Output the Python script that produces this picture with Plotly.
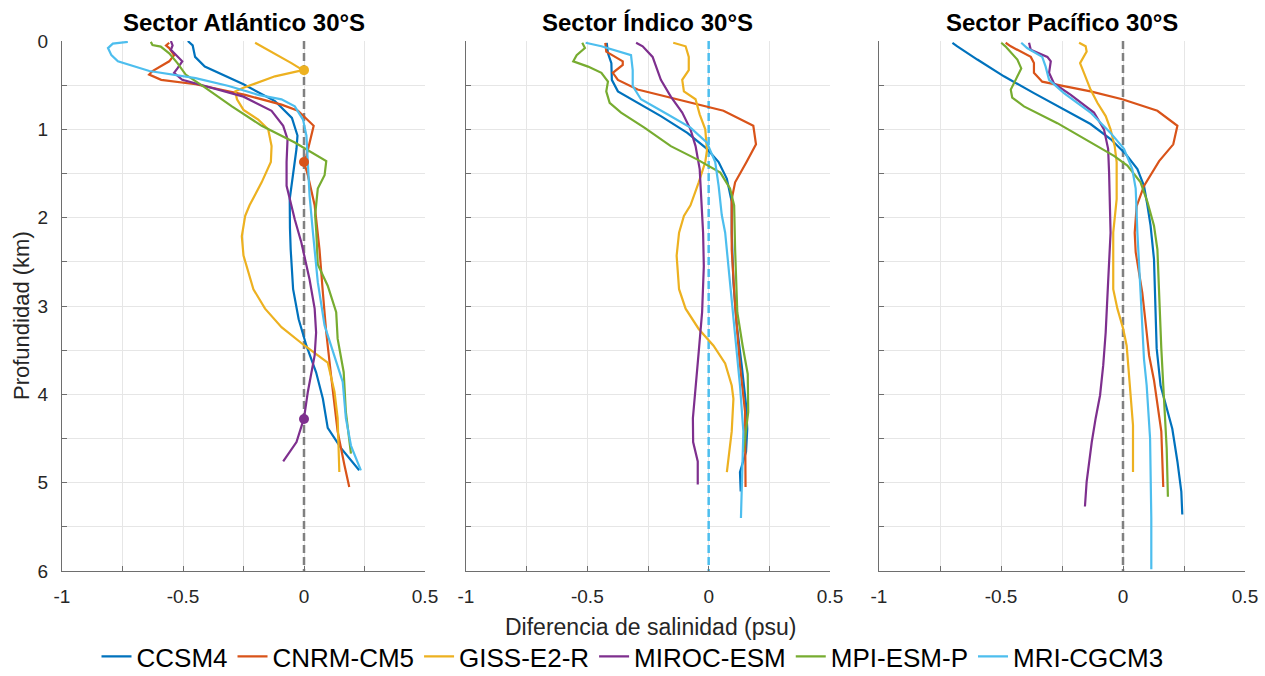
import plotly.graph_objects as go

MODELS = ["CCSM4", "CNRM-CM5", "GISS-E2-R", "MIROC-ESM", "MPI-ESM-P", "MRI-CGCM3"]
COLORS = ["#0072BD", "#D95319", "#EDB120", "#7E2F8E", "#77AC30", "#4DBEEE"]
SECTORS = ["Sector Atlántico 30°S", "Sector Índico 30°S", "Sector Pacífico 30°S"]
XTICKS = [-1, -0.75, -0.5, -0.25, 0, 0.25, 0.5]
XTICKTEXT = ["-1", "", "-0.5", "", "0", "", "0.5"]
YTICKS = [0, 0.5, 1, 1.5, 2, 2.5, 3, 3.5, 4, 4.5, 5, 5.5, 6]
YTICKTEXT = ["0", "", "1", "", "2", "", "3", "", "4", "", "5", "", "6"]

# ---- Atlántico ----
ATL_CCSM4_D = [0, 0.05, 0.18, 0.29, 0.49, 0.68, 0.87, 1.07, 1.22, 1.49, 1.79, 2.12, 2.36, 2.81, 3.15, 3.45, 3.75, 4.05, 4.38, 4.61, 4.86]
ATL_CCSM4_S = [-0.48, -0.46, -0.45, -0.41, -0.25, -0.12, -0.05, -0.027, -0.031, -0.045, -0.059, -0.058, -0.055, -0.045, -0.022, 0.01, 0.05, 0.078, 0.098, 0.153, 0.228]
ATL_CNRM_D = [0.02, 0.05, 0.08, 0.16, 0.23, 0.34, 0.38, 0.44, 0.49, 0.61, 0.72, 0.79, 0.96, 1.15, 1.30, 1.37, 1.52, 1.86, 2.36, 2.85, 3.30, 3.79, 4.42, 4.80, 5.05]
ATL_CNRM_S = [-0.557, -0.57, -0.557, -0.537, -0.557, -0.626, -0.64, -0.59, -0.448, -0.243, -0.093, -0.025, 0.04, 0.023, 0.01, 0.0, 0.016, 0.044, 0.064, 0.078, 0.092, 0.112, 0.139, 0.167, 0.187]
ATL_GISS_D = [0.02, 0.10, 0.25, 0.33, 0.40, 0.53, 0.57, 0.66, 0.78, 0.89, 1.0, 1.19, 1.37, 1.60, 1.86, 1.98, 2.21, 2.43, 2.81, 3.03, 3.24, 3.45, 3.64, 3.97, 4.27, 4.88]
ATL_GISS_S = [-0.202, -0.148, -0.052, -0.005, -0.12, -0.25, -0.284, -0.277, -0.25, -0.189, -0.148, -0.134, -0.137, -0.175, -0.225, -0.243, -0.257, -0.25, -0.209, -0.161, -0.093, 0.003, 0.098, 0.126, 0.139, 0.146]
ATL_MIROC_D = [0, 0.05, 0.10, 0.23, 0.31, 0.36, 0.44, 0.53, 0.63, 0.79, 0.96, 1.11, 1.37, 1.64, 2.02, 2.28, 2.70, 3.03, 3.30, 3.56, 3.97, 4.27, 4.54, 4.76]
ATL_MIROC_S = [-0.55, -0.543, -0.55, -0.503, -0.523, -0.537, -0.503, -0.38, -0.25, -0.134, -0.086, -0.068, -0.072, -0.072, -0.038, -0.011, 0.023, 0.044, 0.05, 0.044, 0.016, 0.0, -0.031, -0.086]
ATL_MPI_D = [0.01, 0.045, 0.064, 0.14, 0.25, 0.38, 0.53, 0.74, 0.96, 1.15, 1.36, 1.52, 1.67, 1.97, 2.17, 2.53, 2.77, 3.07, 3.37, 3.75, 4.20, 4.67]
ATL_MPI_S = [-0.633, -0.626, -0.592, -0.557, -0.523, -0.489, -0.407, -0.298, -0.175, -0.038, 0.092, 0.085, 0.057, 0.046, 0.051, 0.057, 0.098, 0.133, 0.139, 0.164, 0.173, 0.194]
ATL_MRI_D = [0.01, 0.03, 0.08, 0.16, 0.23, 0.34, 0.42, 0.51, 0.61, 0.66, 0.74, 0.89, 1.07, 1.37, 1.75, 2.17, 2.73, 3.22, 3.56, 3.86, 4.27, 4.58, 4.86]
ATL_MRI_S = [-0.728, -0.79, -0.81, -0.796, -0.769, -0.639, -0.448, -0.311, -0.189, -0.093, -0.038, -0.004, 0.01, 0.016, 0.023, 0.037, 0.057, 0.085, 0.126, 0.16, 0.173, 0.194, 0.235]

# ---- Índico ----
IND_CCSM4_D = [0.02, 0.14, 0.25, 0.44, 0.57, 0.68, 0.85, 1.04, 1.22, 1.37, 1.56, 1.82, 2.17, 2.73, 3.22, 3.67, 4.12, 4.39, 4.65, 4.88, 5.10]
IND_CCSM4_S = [-0.42, -0.415, -0.401, -0.399, -0.374, -0.306, -0.197, -0.088, -0.007, 0.041, 0.075, 0.095, 0.095, 0.102, 0.116, 0.136, 0.154, 0.159, 0.154, 0.129, 0.132]
IND_CNRM_D = [0.02, 0.12, 0.23, 0.27, 0.36, 0.44, 0.55, 0.66, 0.75, 0.79, 0.96, 1.17, 1.37, 1.60, 1.79, 2.36, 3.0, 3.67, 4.20, 5.05]
IND_CNRM_S = [-0.426, -0.422, -0.354, -0.354, -0.395, -0.374, -0.293, -0.129, 0.0, 0.061, 0.184, 0.195, 0.156, 0.109, 0.095, 0.095, 0.109, 0.129, 0.15, 0.152]
IND_GISS_D = [0.02, 0.06, 0.18, 0.33, 0.44, 0.57, 0.66, 0.83, 1.0, 1.24, 1.37, 1.60, 1.86, 1.98, 2.17, 2.43, 2.81, 3.03, 3.26, 3.45, 3.65, 3.90, 4.05, 4.42, 4.88]
IND_GISS_S = [-0.146, -0.095, -0.082, -0.082, -0.109, -0.102, -0.054, -0.037, -0.014, -0.007, -0.014, -0.041, -0.075, -0.102, -0.122, -0.132, -0.122, -0.095, -0.041, 0.02, 0.068, 0.095, 0.102, 0.095, 0.075]
IND_MIROC_D = [0.02, 0.06, 0.18, 0.29, 0.44, 0.63, 0.81, 1.0, 1.19, 1.45, 1.75, 2.17, 2.55, 3.07, 3.52, 3.90, 4.27, 4.54, 4.76, 5.02]
IND_MIROC_S = [-0.299, -0.272, -0.231, -0.218, -0.197, -0.156, -0.109, -0.075, -0.054, -0.037, -0.031, -0.023, -0.02, -0.027, -0.041, -0.054, -0.065, -0.064, -0.045, -0.045]
IND_MPI_D = [0.02, 0.08, 0.16, 0.23, 0.29, 0.36, 0.46, 0.57, 0.70, 0.81, 0.98, 1.19, 1.34, 1.49, 1.67, 1.86, 2.36, 3.07, 3.45, 3.77, 4.20, 4.42, 4.65]
IND_MPI_S = [-0.521, -0.51, -0.544, -0.558, -0.497, -0.442, -0.415, -0.422, -0.408, -0.361, -0.265, -0.156, -0.048, 0.048, 0.088, 0.105, 0.109, 0.118, 0.14, 0.161, 0.163, 0.154, 0.143]
IND_MRI_D = [0.02, 0.06, 0.16, 0.33, 0.51, 0.66, 0.83, 0.98, 1.15, 1.37, 1.64, 1.97, 2.17, 2.73, 3.30, 3.90, 4.42, 4.80, 5.40]
IND_MRI_S = [-0.507, -0.442, -0.32, -0.313, -0.313, -0.279, -0.17, -0.075, -0.007, 0.027, 0.041, 0.054, 0.068, 0.088, 0.109, 0.129, 0.143, 0.14, 0.133]

# ---- Pacífico ----
PAC_CCSM4_D = [0.02, 0.06, 0.21, 0.40, 0.59, 0.78, 0.94, 1.11, 1.28, 1.45, 1.64, 1.86, 2.09, 2.47, 2.92, 3.48, 3.90, 4.20, 4.39, 4.76, 5.10, 5.36]
PAC_CCSM4_S = [-0.699, -0.679, -0.597, -0.488, -0.365, -0.242, -0.133, -0.051, 0.011, 0.059, 0.086, 0.1, 0.113, 0.127, 0.131, 0.138, 0.154, 0.182, 0.202, 0.223, 0.239, 0.243]
PAC_CNRM_D = [0.02, 0.06, 0.18, 0.25, 0.36, 0.46, 0.51, 0.57, 0.66, 0.79, 0.96, 1.17, 1.36, 1.64, 1.87, 2.17, 2.39, 2.85, 3.30, 3.56, 3.84, 4.42, 5.05]
PAC_CNRM_S = [-0.481, -0.46, -0.378, -0.365, -0.365, -0.331, -0.242, -0.133, -0.003, 0.141, 0.223, 0.206, 0.148, 0.086, 0.056, 0.048, 0.052, 0.079, 0.097, 0.107, 0.127, 0.157, 0.165]
PAC_GISS_D = [0.02, 0.06, 0.12, 0.25, 0.36, 0.55, 0.70, 0.85, 1.0, 1.19, 1.37, 1.64, 1.79, 2.17, 2.81, 3.03, 3.26, 3.45, 3.97, 4.35, 4.88]
PAC_GISS_S = [-0.18, -0.153, -0.149, -0.176, -0.16, -0.133, -0.105, -0.071, -0.051, -0.034, -0.026, -0.026, -0.026, -0.04, -0.04, -0.023, 0.001, 0.015, 0.031, 0.041, 0.041]
PAC_MIROC_D = [0.02, 0.10, 0.18, 0.23, 0.36, 0.48, 0.61, 0.81, 1.0, 1.22, 1.49, 1.82, 2.17, 2.73, 3.30, 3.67, 4.01, 4.27, 4.54, 4.99, 5.27]
PAC_MIROC_S = [-0.385, -0.378, -0.31, -0.296, -0.303, -0.283, -0.214, -0.119, -0.078, -0.061, -0.057, -0.055, -0.051, -0.061, -0.071, -0.081, -0.094, -0.112, -0.128, -0.149, -0.156]
PAC_MPI_D = [0.02, 0.06, 0.21, 0.31, 0.44, 0.55, 0.64, 0.74, 0.93, 1.15, 1.30, 1.41, 1.60, 1.82, 2.09, 2.36, 2.92, 3.48, 4.05, 4.61, 5.16]
PAC_MPI_S = [-0.499, -0.482, -0.433, -0.417, -0.44, -0.46, -0.454, -0.406, -0.269, -0.133, -0.037, 0.018, 0.072, 0.1, 0.127, 0.141, 0.148, 0.157, 0.168, 0.179, 0.184]
PAC_MRI_D = [0.02, 0.08, 0.18, 0.29, 0.44, 0.59, 0.81, 1.04, 1.22, 1.45, 1.67, 2.17, 2.85, 3.30, 3.60, 3.90, 4.50, 5.40, 5.98]
PAC_MRI_S = [-0.417, -0.393, -0.331, -0.317, -0.303, -0.242, -0.133, -0.051, 0.004, 0.038, 0.052, 0.059, 0.072, 0.079, 0.086, 0.097, 0.111, 0.116, 0.116]

# zero-crossing markers (Atlántico)
MARK_S = [0.0, 0.0, 0.0]
MARK_D = [0.33, 1.37, 4.28]
MARK_MODEL = ["GISS-E2-R", "CNRM-CM5", "MIROC-ESM"]

# reference line colours per sector
REF_COLORS = ["#808080", "#4DBEEE", "#808080"]

SERIES = [
    [(ATL_CCSM4_S, ATL_CCSM4_D), (ATL_CNRM_S, ATL_CNRM_D), (ATL_GISS_S, ATL_GISS_D),
     (ATL_MIROC_S, ATL_MIROC_D), (ATL_MPI_S, ATL_MPI_D), (ATL_MRI_S, ATL_MRI_D)],
    [(IND_CCSM4_S, IND_CCSM4_D), (IND_CNRM_S, IND_CNRM_D), (IND_GISS_S, IND_GISS_D),
     (IND_MIROC_S, IND_MIROC_D), (IND_MPI_S, IND_MPI_D), (IND_MRI_S, IND_MRI_D)],
    [(PAC_CCSM4_S, PAC_CCSM4_D), (PAC_CNRM_S, PAC_CNRM_D), (PAC_GISS_S, PAC_GISS_D),
     (PAC_MIROC_S, PAC_MIROC_D), (PAC_MPI_S, PAC_MPI_D), (PAC_MRI_S, PAC_MRI_D)],
]

W, H = 1265, 676
FONT = "Liberation Sans, Arial, sans-serif"
TXT = "#262626"
AXC = "#6e6e6e"
GRID = "#e6e6e6"

X_DOMAINS = [[62 / W, 425 / W], [466 / W, 830 / W], [879 / W, 1245 / W]]
Y_DOMAIN = [(H - 571) / H, (H - 41) / H]

fig = go.Figure()

for p in range(3):
    xa = "x" if p == 0 else f"x{p + 1}"
    ya = "y" if p == 0 else f"y{p + 1}"
    for m, (s, d) in enumerate(SERIES[p]):
        fig.add_trace(go.Scatter(
            x=s, y=d, mode="lines", name=MODELS[m],
            line=dict(color=COLORS[m], width=2.2),
            xaxis=xa, yaxis=ya, showlegend=(p == 0), legendgroup=MODELS[m],
        ))

for s, d, mdl in zip(MARK_S, MARK_D, MARK_MODEL):
    fig.add_trace(go.Scatter(
        x=[s], y=[d], mode="markers", showlegend=False,
        marker=dict(color=COLORS[MODELS.index(mdl)], size=10),
        xaxis="x", yaxis="y",
    ))

layout = dict(
    width=W, height=H, autosize=False,
    margin=dict(l=0, r=0, t=0, b=0, autoexpand=False),
    paper_bgcolor="white", plot_bgcolor="white",
    font=dict(family=FONT, color=TXT, size=19),
    showlegend=True,
    legend=dict(
        orientation="h", xref="paper", yref="paper",
        x=0.5, xanchor="center", y=-0.006, yanchor="bottom",
        font=dict(size=26, color="#000000", family=FONT),
        bgcolor="rgba(0,0,0,0)", itemwidth=30, tracegroupgap=0,
    ),
)

for p in range(3):
    xk = "xaxis" if p == 0 else f"xaxis{p + 1}"
    yk = "yaxis" if p == 0 else f"yaxis{p + 1}"
    ya = "y" if p == 0 else f"y{p + 1}"
    xa = "x" if p == 0 else f"x{p + 1}"
    layout[xk] = dict(
        domain=X_DOMAINS[p], anchor=ya, range=[-1, 0.5], automargin=False,
        tickvals=XTICKS, ticktext=XTICKTEXT, ticks="inside", ticklen=5,
        tickcolor=AXC, showline=True, linecolor=AXC, linewidth=1,
        showgrid=True, gridcolor=GRID, gridwidth=1, zeroline=False,
        tickfont=dict(size=19, color=TXT), ticklabelstandoff=8,
    )
    layout[yk] = dict(
        domain=Y_DOMAIN, anchor=xa, range=[6, 0], automargin=False,
        tickvals=YTICKS, ticktext=YTICKTEXT, ticks="inside", ticklen=5,
        tickcolor=AXC, showline=True, linecolor=AXC, linewidth=1,
        showgrid=True, gridcolor=GRID, gridwidth=1, zeroline=False,
        showticklabels=(p == 0), tickfont=dict(size=19, color=TXT),
        ticklabelstandoff=9,
    )

fig.update_layout(**layout)

for p in range(3):
    xa = "x" if p == 0 else f"x{p + 1}"
    ya = "y" if p == 0 else f"y{p + 1}"
    fig.add_shape(type="line", xref=xa, yref=ya, x0=0, x1=0, y0=0, y1=6,
                  line=dict(color=REF_COLORS[p], width=2.5, dash="8px,4px"), layer="between")
    cx = (X_DOMAINS[p][0] + X_DOMAINS[p][1]) / 2
    fig.add_annotation(text=f"<b>{SECTORS[p]}</b>", xref="paper", yref="paper",
                       x=cx, y=(H - 22) / H, xanchor="center", yanchor="middle",
                       showarrow=False, font=dict(size=24, color="#000000", family=FONT))

fig.add_annotation(text="Diferencia de salinidad (psu)", xref="paper", yref="paper",
                   x=651 / W, y=(H - 627) / H, xanchor="center", yanchor="middle",
                   showarrow=False, font=dict(size=23, color=TXT, family=FONT))
fig.add_annotation(text="Profundidad (km)", xref="paper", yref="paper",
                   x=22 / W, y=(H - 316) / H, xanchor="center", yanchor="middle",
                   textangle=-90, showarrow=False, font=dict(size=22, color=TXT, family=FONT))

fig.write_html("out.html")
